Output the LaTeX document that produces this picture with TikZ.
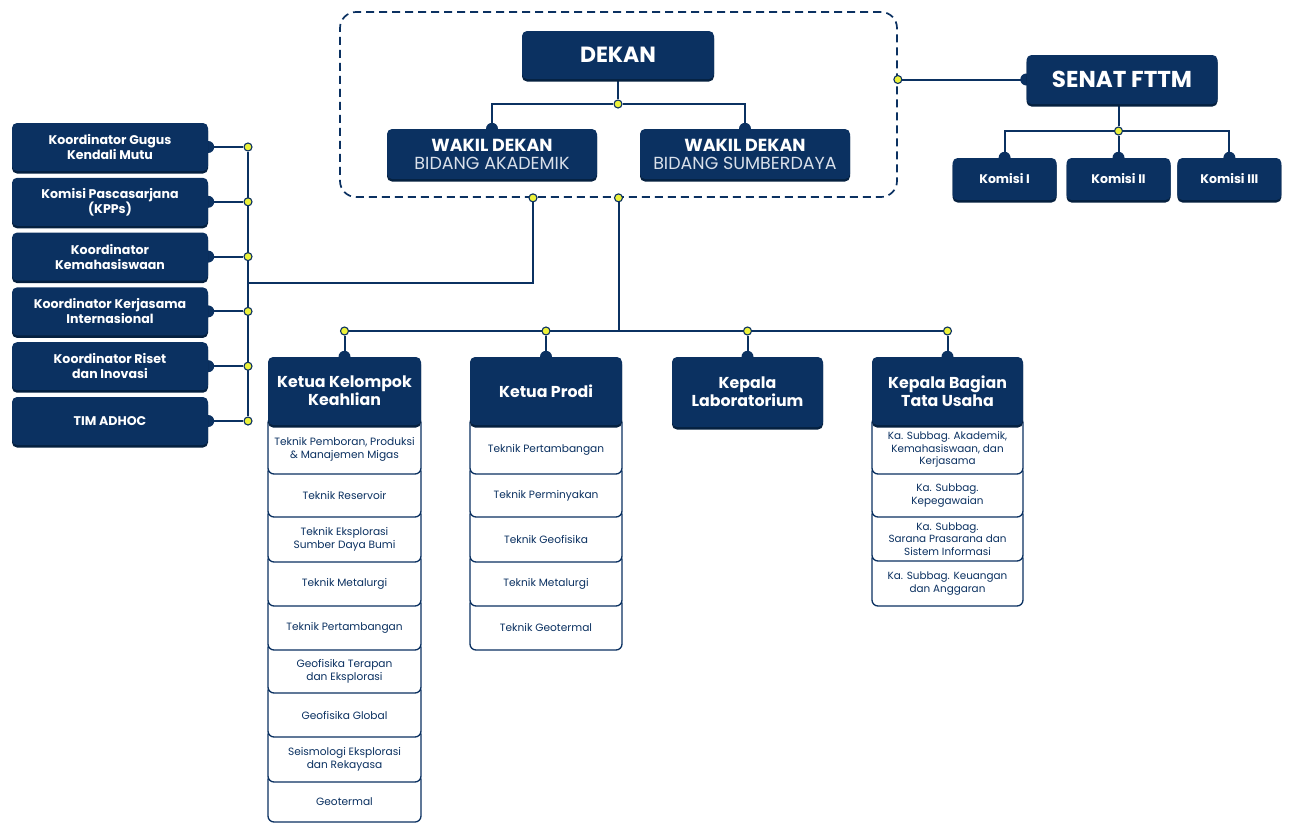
\documentclass[tikz,border=0pt]{standalone}
\usepackage{fontspec}
\setmainfont{Poppins}
\usetikzlibrary{positioning,calc,shadows,backgrounds}

\definecolor{navy}{HTML}{0B3161}
\definecolor{navyshade}{HTML}{05203F}
\definecolor{dotyellow}{HTML}{EDF23A}
\definecolor{paleblue}{HTML}{D9E0EA}

\newcommand{\dekanfont}{\fontsize{22}{24}\selectfont\bfseries}
\newcommand{\wakilfont}{\fontsize{17.5}{18}\selectfont}
\newcommand{\headfont}{\fontsize{15.8}{18}\selectfont\bfseries}
\newcommand{\sidefont}{\fontsize{12.6}{15}\selectfont\bfseries}

\tikzset{
  unit/.style={fill=navy, rounded corners=5pt, text=white, align=center, inner sep=2pt,
    drop shadow={shadow xshift=0pt, shadow yshift=-2.5pt, fill=navyshade, opacity=1}},
  listcell/.style={draw=navy, fill=white, line width=1.3pt, rounded corners=6pt},
  itemtext/.style={text=navy, align=center, inner sep=0pt, font=\fontsize{10.6}{13}\selectfont},
  conn/.style={draw=navy, line width=2pt},
  junc/.style={circle, draw=navy, fill=dotyellow, line width=1.1pt, minimum size=8pt, inner sep=0pt},
  bump/.style={fill=navy},
}

\begin{document}
\begin{tikzpicture}[x=1pt,y=-1pt]
\useasboundingbox (0,0) rectangle (1291,823);
%
% pimpinan fakultas
\node[draw=navy, dash pattern=on 8pt off 5pt, line width=1.7pt, rounded corners=16pt,
  minimum width=557, minimum height=185] (grp) at (618.5,104.5) {};
\node[unit, minimum width=192, minimum height=48, font=\dekanfont] (dekan) at (618,55) {DEKAN};
\node[unit, minimum width=210, minimum height=50, font=\wakilfont] (wdak) at (492,154)
  {\textbf{WAKIL DEKAN}\\{\color{paleblue}BIDANG AKADEMIK}};
\node[unit, minimum width=210, minimum height=50, font=\wakilfont] (wdsd) at (745,154)
  {\textbf{WAKIL DEKAN}\\{\color{paleblue}BIDANG SUMBERDAYA}};
\node[junc] (jdekan) at (618,104) {};
%
% senat
\node[unit, minimum width=191, minimum height=49, font=\fontsize{23}{25}\selectfont\bfseries] (senat) at (1122,79.5) {SENAT FTTM};
\node[unit, minimum width=104, minimum height=42, font=\fontsize{12.5}{14}\selectfont\bfseries] (kom2) at (1118.5,179) {Komisi II};
\node[unit, minimum width=104, minimum height=42, font=\fontsize{12.5}{14}\selectfont\bfseries, left=9.5pt of kom2] (kom1) {Komisi I};
\node[unit, minimum width=104, minimum height=42, font=\fontsize{12.5}{14}\selectfont\bfseries, right=6.5pt of kom2] (kom3) {Komisi III};
\node[junc] (jsenat) at (1118.5,131) {};
\node[junc] (jgrpR) at (grp.east |- senat) {};
%
% koordinator di kiri
\foreach \txt [count=\i] in {{Koordinator Gugus\\Kendali Mutu}, {Komisi Pascasarjana\\(KPPs)},
  {Koordinator\\Kemahasiswaan}, {Koordinator Kerjasama\\Internasional},
  {Koordinator Riset\\dan Inovasi}, {TIM ADHOC}}
{
  \node[unit, minimum width=196, minimum height=48, font=\sidefont] (koord\i) at (110,{147+54.8*(\i-1)}) {\txt};
  \node[junc] (kd\i) at (248,{147+54.8*(\i-1)}) {};
}
\coordinate (kbr) at (248,283);
\node[junc] (jgrpL) at ([xshift=-85.5pt]grp.south) {};
\node[junc] (jgrpM) at (grp.south) {};
%
% daftar di bawah kepala unit (dari bawah ke atas)
\foreach \ya/\yb/\txt [count=\n] in {782/822/Geotermal, 737/782/{Seismologi Eksplorasi\\dan Rekayasa},
  693/737/Geofisika Global, 650/693/{Geofisika Terapan\\dan Eksplorasi}, 606/650/Teknik Pertambangan,
  562/606/Teknik Metalurgi, 517/562/{Teknik Eksplorasi\\Sumber Daya Bumi}, 474/517/Teknik Reservoir,
  425/474/{Teknik Pemboran, Produksi\\\& Manajemen Migas}}
  \path[listcell] (268,\ya-8) rectangle (421,\yb) node[itemtext] (kk-\n) at (344.5,{(\ya+\yb)/2}) {\txt};
\foreach \ya/\yb/\txt [count=\n] in {606/650/Teknik Geotermal, 562/606/Teknik Metalurgi,
  517/562/Teknik Geofisika, 474/517/Teknik Perminyakan, 425/474/Teknik Pertambangan}
  \path[listcell] (470,\ya-8) rectangle (622,\yb) node[itemtext] (prodi-\n) at (546,{(\ya+\yb)/2}) {\txt};
\foreach \ya/\yb/\txt [count=\n] in {561/606/{Ka. Subbag. Keuangan\\dan Anggaran},
  517/561/{Ka. Subbag.\\Sarana Prasarana dan\\Sistem Informasi}, 474/517/{Ka. Subbag.\\Kepegawaian},
  425/474/{Ka. Subbag. Akademik,\\Kemahasiswaan, dan\\Kerjasama}}
  \path[listcell] (872,\ya-8) rectangle (1023,\yb) node[itemtext, font=\fontsize{10.4}{12.6}\selectfont] (btu-\n) at (947.5,{(\ya+\yb)/2}) {\txt};
%
% kepala unit
\node[unit, minimum width=153, minimum height=68, font=\headfont] (kk) at (344.5,391) {Ketua Kelompok\\Keahlian};
\node[unit, minimum width=152, minimum height=68, font=\headfont] (prodi) at (546,391) {Ketua Prodi};
\node[unit, minimum width=151, minimum height=70, font=\headfont] (lab) at (747.5,392) {Kepala\\Laboratorium};
\node[unit, minimum width=151, minimum height=68, font=\headfont] (btu) at (947.5,391) {Kepala Bagian\\Tata Usaha};
\foreach \u in {kk,prodi,lab,btu}
  \node[junc] (j\u) at (\u.north |- 0,331) {};
%
\begin{scope}[on background layer]
  \draw[conn] (dekan.south) -- (jdekan);
  \draw[conn] (wdak.north) |- (jdekan) -| (wdsd.north);
  \draw[conn] (jgrpR) -- (senat.west);
  \draw[conn] (senat.south -| jsenat) -- (jsenat) -- (kom2.north);
  \draw[conn] (kom1.north) |- (jsenat) -| (kom3.north);
  \foreach \i in {1,...,6}
    \draw[conn] (koord\i.east) -- (kd\i);
  \draw[conn] (kd1) -- (kd6);
  \draw[conn] (kbr) -| (jgrpL);
  \draw[conn] (jgrpM) -- (jgrpM |- jkk);
  \draw[conn] (jkk) -- (jbtu);
  \foreach \u in {kk,prodi,lab,btu}
    \draw[conn] (j\u) -- (\u.north);
  % tonjolan kecil di titik sambung
  \foreach \p in {wdak.north, wdsd.north, kom1.north, kom2.north, kom3.north, senat.west,
    kk.north, prodi.north, lab.north, btu.north}
    \fill[bump] (\p) circle[radius=6pt];
  \foreach \i in {1,...,6}
    \fill[bump] (koord\i.east) circle[radius=6pt];
\end{scope}
\end{tikzpicture}
\end{document}
